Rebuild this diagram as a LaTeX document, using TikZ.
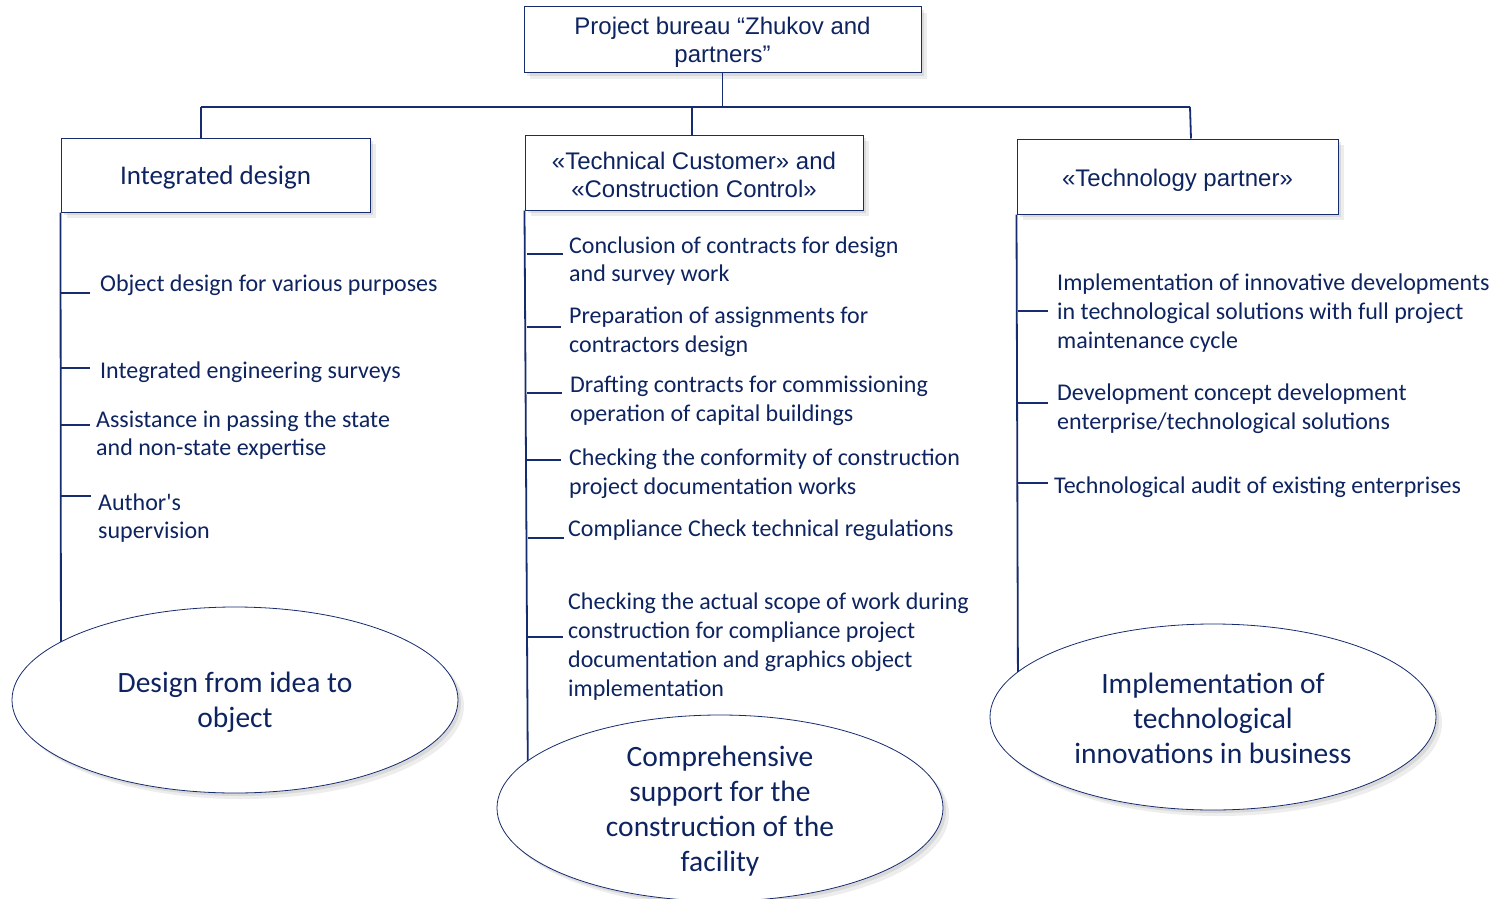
\documentclass[tikz,border=0pt]{standalone}
\usepackage{fontspec}
\setmainfont{Carlito}
\newfontfamily\calplain{Carlito}[Ligatures=TeXOff]
\newfontfamily\arialf{Liberation Sans}
\usetikzlibrary{shapes.geometric,shadows}
\definecolor{navy}{RGB}{22,44,110}
\definecolor{ink}{RGB}{14,36,96}
\begin{document}
\begin{tikzpicture}[x=1pt,y=-1pt,
  conn/.style={draw=navy,line width=1.8pt},
  tick/.style={draw=navy,line width=1.5pt},
  box/.style={draw=navy,line width=1pt,fill=white,inner sep=0pt,
    drop shadow={opacity=.18,shadow xshift=3pt,shadow yshift=-3pt},
    drop shadow={opacity=.14,shadow xshift=6pt,shadow yshift=-6pt}},
  btext/.style={align=center,inner sep=0pt,text=ink},
  atext/.style={btext,font=\arialf\fontsize{24}{28}\selectfont},
  ctext/.style={btext,font=\fontsize{27}{30}\selectfont},
  item/.style={anchor=west,align=left,inner sep=0pt,text=ink,font=\fontsize{24}{28.8}\selectfont},
  oval/.style={ellipse,draw=navy,line width=0.8pt,fill=white,minimum width=446pt,minimum height=186pt,inner sep=0pt,
    drop shadow={opacity=.18,shadow xshift=3pt,shadow yshift=-3pt},
    drop shadow={opacity=.14,shadow xshift=6pt,shadow yshift=-6pt}},
  ovaltext/.style={align=center,inner sep=0pt,text=ink,font=\fontsize{29.5}{35}\selectfont}
]
\useasboundingbox (0,0) rectangle (1502,899);
\fill[white] (0,0) rectangle (1502,899);

% bus
\coordinate (busL) at (201,107);
\coordinate (busR) at (1190,107);
\coordinate (busM) at (692,107);

% boxes
\node[box,minimum width=397pt,minimum height=66pt] (top) at (722.5,40) {};
\node[atext] (topt) at (722.5,42.5) {Project bureau “Zhukov and\\partners”};
\draw[conn] (top.south) -- (top.south |- busL);
\draw[conn] (busL) -- (busR);

\node[box,minimum width=309pt,minimum height=74pt] (ld) at (215.5,175) {};
\node[ctext] (ldt) at (215.5,177.5) {Integrated design};
\node[box,minimum width=338pt,minimum height=75pt] (md) at (694,172.5) {};
\node[atext] (mdt) at (694,174.5) {«Technical Customer» and\\«Construction Control»};
\node[box,minimum width=321pt,minimum height=75pt] (rd) at (1177.5,176.5) {};
\node[atext] (rdt) at (1177.5,180) {«Technology partner»};

\draw[conn] (busL) -- (busL |- ld.north);
\draw[conn] (busM) -- (busM |- md.north);
\draw[conn] (busR) -- (1191,0 |- rd.north);

% trunks
\coordinate (lend) at (61,700);
\coordinate (mend) at (528,800);
\coordinate (rend) at (1018,700);
\draw[conn] (ld.south west) -- (lend);
\draw[conn] (md.south west) -- (mend);
\draw[conn] (rd.south west) -- (rend);

% left items
\node[item] (l1) at (100,285) {Object design for various purposes};
\node[item] (l2) at (100,372) {Integrated engineering surveys};
\node[item] (l3) at (96,435) {Assistance in passing the state\\and non-state expertise};
\node[item] (l4) at (98,518) {Author{\calplain'}s\\supervision};
\draw[tick] (61,293) -- (90,293);
\draw[tick] (61,368) -- (90,368);
\draw[tick] (61,425) -- (90,425);
\draw[tick] (61,496) -- (91,496);

% middle items
\node[item] (m1) at (569,261) {Conclusion of contracts for design\\and survey work};
\node[item] (m2) at (569,332) {Preparation of assignments for\\contractors design};
\node[item] (m3) at (570,400.5) {Drafting contracts for commissioning\\operation of capital buildings};
\node[item] (m4) at (569,473.5) {Checking the conformity of construction\\project documentation works};
\node[item] (m5) at (568,530) {Compliance Check technical regulations};
\node[item] (m6) at (568,646.5) {Checking the actual scope of work during\\construction for compliance project\\documentation and graphics object\\implementation};
\draw[tick] (527,254) -- (563,254);
\draw[tick] (527,327) -- (561,327);
\draw[tick] (527,393) -- (562,393);
\draw[tick] (527,460) -- (561,460);
\draw[tick] (528,538) -- (564,538);
\draw[tick] (528,637) -- (563,637);

% right items
\node[item] (r1) at (1057,313) {Implementation of innovative developments\\in technological solutions with full project\\maintenance cycle};
\node[item] (r2) at (1057,408.5) {Development concept development\\enterprise/technological solutions};
\node[item] (r3) at (1054,487) {Technological audit of existing enterprises};
\draw[tick] (1018,311) -- (1048,311);
\draw[tick] (1018,403) -- (1048,403);
\draw[tick] (1018,483) -- (1048,483);

% ellipses
\node[oval] (e1) at (235,700) {};
\node[ovaltext] (e1t) at (235,702) {Design from idea to\\object};
\node[oval] (e2) at (720,808) {};
\node[ovaltext] (e2t) at (720,811) {Comprehensive\\support for the\\construction of the\\facility};
\node[oval] (e3) at (1213,717) {};
\node[ovaltext] (e3t) at (1213,718) {Implementation of\\technological\\innovations in business};
\end{tikzpicture}
\end{document}
